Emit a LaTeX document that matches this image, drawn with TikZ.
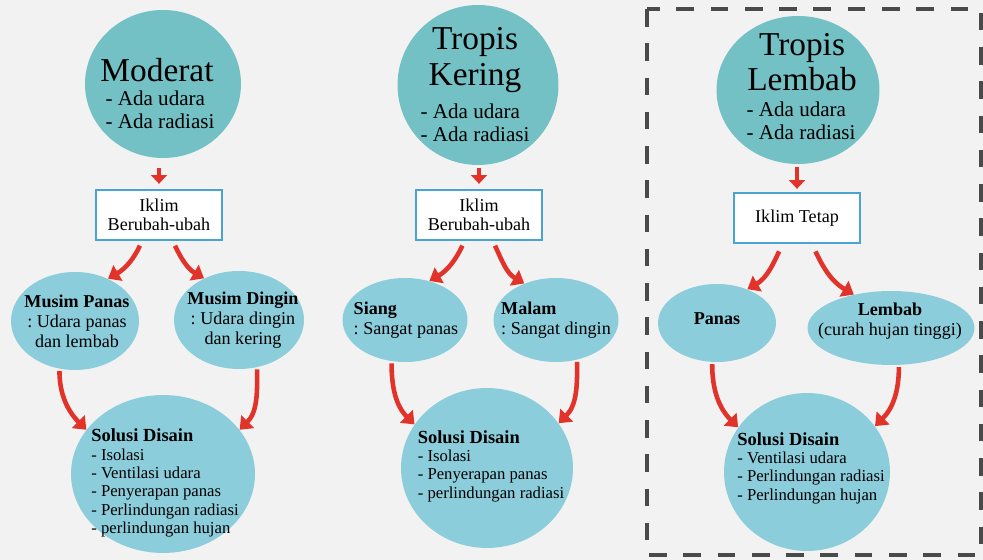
\documentclass[tikz,border=0pt]{standalone}
\usepackage{fontspec}
\setmainfont{Liberation Serif}
\usetikzlibrary{arrows.meta,shapes.geometric}
\frenchspacing
\definecolor{topteal}{HTML}{73C0C5}
\definecolor{lowblue}{HTML}{8CCDDC}
\definecolor{boxblue}{HTML}{4AA3D3}
\definecolor{arrred}{HTML}{E2332B}
\definecolor{dashgray}{HTML}{4A4A4A}
\definecolor{bgcol}{HTML}{F2F2F2}
\tikzset{
	topcirc/.style={ellipse, fill=topteal, inner sep=0pt},
	lowell/.style={ellipse, fill=lowblue, inner sep=0pt},
	iklimbox/.style={draw=boxblue, line width=1.3pt, fill=white, minimum width=2.52cm, minimum height=1cm, align=center, font=\fontsize{10.3}{11}\selectfont},
	titletext/.style={align=center, inner sep=0pt, font=\fontsize{19}{20}\selectfont},
	adatext/.style={align=left, inner sep=0pt, font=\fontsize{12}{12.8}\selectfont},
	elltext/.style={align=center, inner sep=0pt, font=\fontsize{10.3}{11.3}\selectfont},
	soltext/.style={align=left, inner sep=0pt, font=\fontsize{9.5}{10.4}\selectfont},
	shortarr/.style={arrred, line width=1.8pt, -{Triangle[length=5pt,width=9pt]}},
	curvearr/.style={arrred, line width=2.6pt, -{Triangle[length=6.5pt,width=10pt]}, shorten <=0.04cm}
}
\newcommand{\solhead}{\textbf{\fontsize{10.5}{10.4}\selectfont Solusi Disain}}
\begin{document}
\begin{tikzpicture}[x=0.02cm, y=0.02cm]
		\path[use as bounding box, fill=bgcol] (0,0) rectangle (983,560);
		\draw[dashgray, line width=2pt, dash pattern=on 10pt off 9.5pt] (647,551) rectangle (981,5);
		
		\node (T1) at (163,476) [topcirc, minimum width=3.12cm, minimum height=2.96cm] {};
		\node (T2) at (478,475) [topcirc, minimum width=3.22cm, minimum height=3.2cm] {};
		\node (T3) at (798,470) [topcirc, minimum width=3.26cm, minimum height=2.96cm] {};
		\node (T1t) at (157,490) [titletext] {Moderat};
		\node (T2t) at (475,500) [titletext] {Tropis\\Kering};
		\node (T3t) at (802,498) [titletext] {Tropis\\Lembab};
		\node (T1a) at (160,450) [adatext] {- Ada udara\\- Ada radiasi};
		\node (T2a) at (475,437) [adatext] {- Ada udara\\- Ada radiasi};
		\node (T3a) at (801,439) [adatext] {- Ada udara\\- Ada radiasi};
		
		\node (I1) at (159,345) [iklimbox] {Iklim\\Berubah-ubah};
		\node (I2) at (479,345) [iklimbox] {Iklim\\Berubah-ubah};
		\node (I3) at (797,342) [iklimbox] {Iklim Tetap};
		
		\node (A1) at (75,239) [lowell, minimum width=2.56cm, minimum height=1.96cm] {};
		\node (B1) at (239,240) [lowell, minimum width=2.6cm, minimum height=1.96cm] {};
		\node (A2) at (405,240) [lowell, minimum width=2.5cm, minimum height=1.68cm] {};
		\node (B2) at (556,240) [lowell, minimum width=2.5cm, minimum height=1.68cm] {};
		\node (A3) at (717,237) [lowell, minimum width=2.36cm, minimum height=1.56cm] {};
		\node (B3) at (891,232) [lowell, minimum width=3.34cm, minimum height=1.48cm] {};
		\node (A1t) at (77,239) [elltext] {\textbf{Musim Panas}\\: Udara panas\\dan lembab};
		\node (B1t) at (243,240) [elltext] {\textbf{Musim Dingin}\\: Udara dingin\\dan kering};
		\node (A2t) at (406,240) [elltext, align=left] {\textbf{Siang}\\: Sangat panas};
		\node (B2t) at (556,240) [elltext, align=left] {\textbf{Malam}\\: Sangat dingin};
		\node (A3t) at (717,241) [elltext] {\textbf{Panas}};
		\node (B3t) at (890,239) [elltext] {\textbf{Lembab}\\(curah hujan tinggi)};
		
		\node (S1) at (163,86) [lowell, minimum width=3.68cm, minimum height=3.16cm] {};
		\node (S2) at (487,92) [lowell, minimum width=3.44cm, minimum height=3.2cm] {};
		\node (S3) at (807,88) [lowell, minimum width=3.32cm, minimum height=3.16cm] {};
		\node (S1t) at (165,77) [soltext] {\solhead\\- Isolasi\\- Ventilasi udara\\- Penyerapan panas\\- Perlindungan radiasi\\- perlindungan hujan};
		\node (S2t) at (491,94) [soltext] {\solhead\\- Isolasi\\- Penyerapan panas\\- perlindungan radiasi};
		\node (S3t) at (811,92) [soltext] {\solhead\\- Ventilasi udara\\- Perlindungan radiasi\\- Perlindungan hujan};
		
		\draw[shortarr, shorten <=0.2cm, shorten >=0.1cm] (I1 |- T1.south) -- (I1.north);
		\draw[shortarr, shorten <=0.06cm, shorten >=0.1cm] (I2 |- T2.south) -- (I2.north);
		\draw[shortarr, shorten <=0.06cm, shorten >=0.06cm] (I3 |- T3.south) -- (I3.north);
		
		\draw[curvearr, shorten <=0.1cm] (I1.-123) to[out=-115, in=30] (A1.52);
		\draw[curvearr, shorten <=0.1cm] (I1.-62) to[out=-65, in=150] (B1.130);
		\draw[curvearr, shorten <=0.1cm] (I2.-119) to[out=-115, in=30] (A2.58);
		\draw[curvearr, shorten <=0.1cm] (I2.-62) to[out=-65, in=150] (B2.131);
		\draw[curvearr, shorten <=0.16cm] (I3.-119) to[out=-115, in=30] (A3.48);
		\draw[curvearr, shorten <=0.16cm] (I3.-60) to[out=-65, in=150] (B3.138);
		
		\draw[curvearr] (A1.-108) to[out=-90, in=135] (S1.150);
		\draw[curvearr] (B1.-69) to[out=-90, in=45] (S1.30);
		\draw[curvearr] (A2.-108) to[out=-90, in=135] (S2.149);
		\draw[curvearr] (B2.-62) to[out=-90, in=45] (S2.32);
		\draw[curvearr] (A3.-97) to[out=-90, in=135] (S3.147);
		\draw[curvearr] (B3.-78) to[out=-90, in=45] (S3.34);
\end{tikzpicture}
\end{document}
